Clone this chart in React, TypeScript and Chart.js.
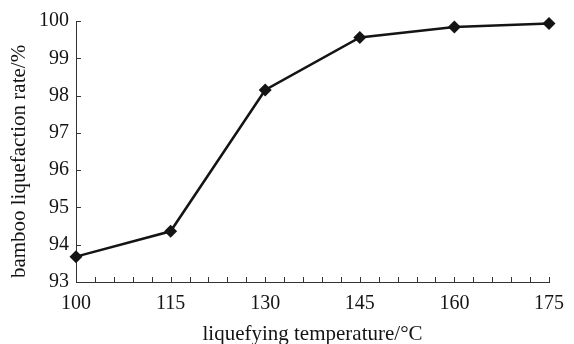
import React, { useEffect, useRef } from "react";
import { Chart, registerables } from "chart.js";

Chart.register(...registerables);

const temperatures = [100, 115, 130, 145, 160, 175];
const liquefactionRates = [93.68, 94.36, 98.15, 99.56, 99.84, 99.93];
const xTickValues = [100, 115, 130, 145, 160, 175];
const yTickValues = [93, 94, 95, 96, 97, 98, 99, 100];
const xMinorStep = 3;
const xTitle = "liquefying temperature/°C";
const yTitle = "bamboo liquefaction rate/%";

const FONT = "'Liberation Serif', 'Times New Roman', serif";
const INK = "#141414";
const AXIS = "#333333";

const inwardTicks = {
  id: "inwardTicks",
  afterDraw(chart: any) {
    const { ctx, chartArea, scales } = chart;
    const x = scales.x;
    const y = scales.y;
    ctx.save();
    ctx.strokeStyle = AXIS;
    ctx.lineWidth = 1;
    ctx.beginPath();
    for (let v = x.min; v <= x.max + 1e-9; v += xMinorStep) {
      const px = Math.round(x.getPixelForValue(v)) + 0.5;
      ctx.moveTo(px, chartArea.bottom);
      ctx.lineTo(px, chartArea.bottom - 5);
    }
    for (const v of yTickValues) {
      const py = Math.round(y.getPixelForValue(v)) + 0.5;
      ctx.moveTo(chartArea.left, py);
      ctx.lineTo(chartArea.left + 5, py);
    }
    ctx.stroke();
    // y-axis title
    ctx.fillStyle = INK;
    ctx.font = `21px ${FONT}`;
    ctx.textAlign = "center";
    ctx.textBaseline = "middle";
    ctx.translate(chartArea.left - 57, (chartArea.top + chartArea.bottom) / 2 + 10);
    ctx.rotate(-Math.PI / 2);
    ctx.fillText(yTitle, 0, 0);
    ctx.restore();
  },
};

export default function App() {
  const ref = useRef<HTMLCanvasElement | null>(null);

  useEffect(() => {
    document.body.style.margin = "0";
    const canvas = ref.current!;
    const chart = new Chart(canvas, {
      type: "line",
      data: {
        datasets: [
          {
            data: temperatures.map((t, i) => ({ x: t, y: liquefactionRates[i] })),
            borderColor: INK,
            borderWidth: 2.5,
            pointStyle: "rectRot",
            pointRadius: 6.5,
            pointBackgroundColor: INK,
            pointBorderColor: INK,
            pointBorderWidth: 0,
            tension: 0,
            clip: false as any,
          },
        ],
      },
      options: {
        responsive: false,
        animation: false,
        events: [],
        layout: { padding: { top: 21, right: 15, left: 0, bottom: 0 } },
        plugins: { legend: { display: false }, tooltip: { enabled: false } },
        scales: {
          x: {
            type: "linear",
            min: 100,
            max: 175,
            afterBuildTicks: (s: any) => {
              s.ticks = xTickValues.map((v) => ({ value: v }));
            },
            afterFit: (s: any) => {
              s.height = 62;
            },
            grid: { display: false, drawTicks: false },
            border: { display: true, color: AXIS, width: 1 },
            ticks: {
              color: INK,
              padding: 10,
              maxRotation: 0,
              autoSkip: false,
              font: { family: FONT, size: 20 },
            },
            title: {
              display: true,
              text: xTitle,
              color: INK,
              font: { family: FONT, size: 21 },
              padding: { top: 0, bottom: -3 },
            },
          },
          y: {
            type: "linear",
            min: 93,
            max: 100,
            afterBuildTicks: (s: any) => {
              s.ticks = yTickValues.map((v) => ({ value: v }));
            },
            afterFit: (s: any) => {
              s.width = 76;
            },
            grid: { display: false, drawTicks: false },
            border: { display: true, color: AXIS, width: 1 },
            ticks: {
              color: INK,
              padding: 7,
              autoSkip: false,
              font: { family: FONT, size: 20 },
            },
            title: { display: false },
          },
        },
      },
      plugins: [inwardTicks],
    });
    return () => chart.destroy();
  }, []);

  return (
    <div style={{ position: "fixed", left: 0, top: 0, width: 574, height: 344, background: "#fff" }}>
      <canvas ref={ref} width={574} height={344} />
    </div>
  );
}
